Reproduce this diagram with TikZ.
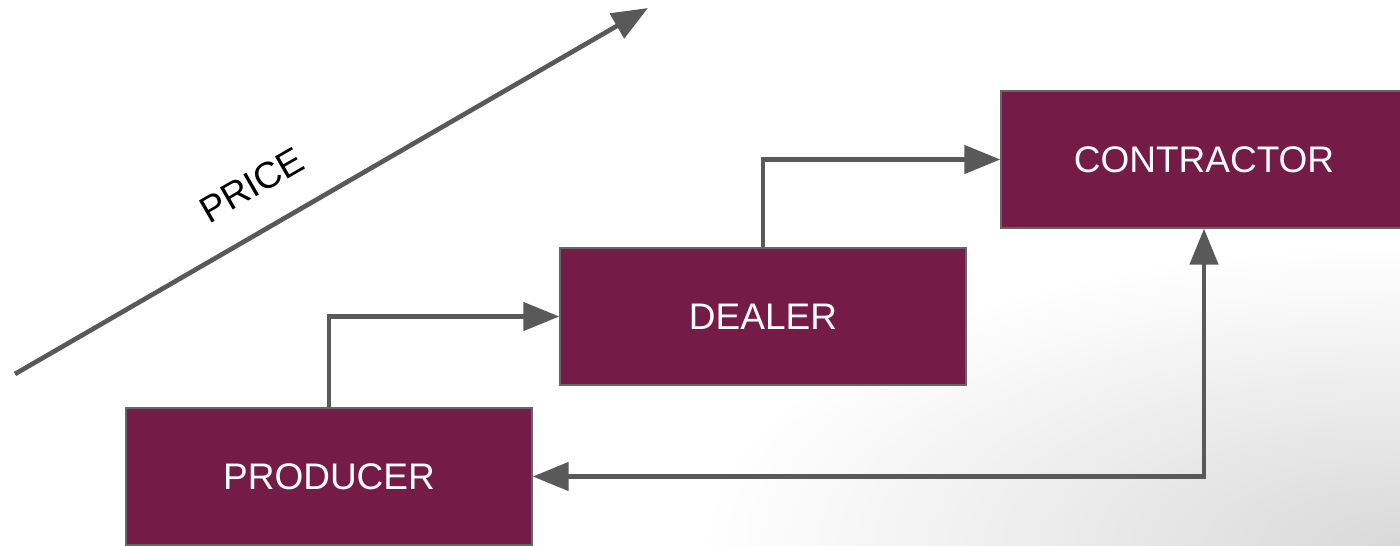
\documentclass[tikz,border=0pt]{standalone}
\usepackage{fontspec}
\setmainfont{Liberation Sans}
\usetikzlibrary{arrows.meta}
\definecolor{boxfill}{HTML}{741B47}
\definecolor{boxline}{HTML}{666666}
\definecolor{conn}{HTML}{595959}
\tikzset{
  stage/.style={rectangle, fill=boxfill, draw=boxline, line width=1pt,
    minimum width=304.5pt, minimum height=102.75pt, inner sep=0pt,
    text=white, font=\fontsize{27.75}{33}\selectfont},
  flow/.style={draw=conn, line width=3.5pt, miter limit=10,
    -{Triangle[length=27pt,width=21pt]}},
  biflow/.style={flow, {Triangle[length=27pt,width=21pt]}-{Triangle[length=27pt,width=21pt]}},
  lbl/.style={text=black, font=\fontsize{27.75}{33}\selectfont, inner sep=0pt}
}
\begin{document}
\begin{tikzpicture}[x=0.75pt, y=-0.75pt]
\useasboundingbox (0,0) rectangle (1400,546);
\begin{scope}
  \clip (0,0) rectangle (1400,546);
  \fill[white] (0,0) rectangle (1400,546);
  \shade[inner color=black!15, outer color=white] (1400,546) ellipse [x radius=700, y radius=300];
  \node[stage] (producer) at (329,476.5) {PRODUCER};
  \node[stage] (dealer) at (763,316.5) {DEALER};
  \node[stage] (contractor) at (1204,159.5) {CONTRACTOR};
\end{scope}
\draw[flow] (producer.north) |- (dealer.west);
\draw[flow] (dealer.north) |- (contractor.west);
\draw[biflow] (producer.east) -| (contractor.south);
\coordinate (pstart) at (15,374);
\coordinate (pend) at (648,8);
\draw[flow] (pstart) -- (pend);
\node[lbl, rotate=30] (price) at (252,185) {PRICE};
\end{tikzpicture}
\end{document}
